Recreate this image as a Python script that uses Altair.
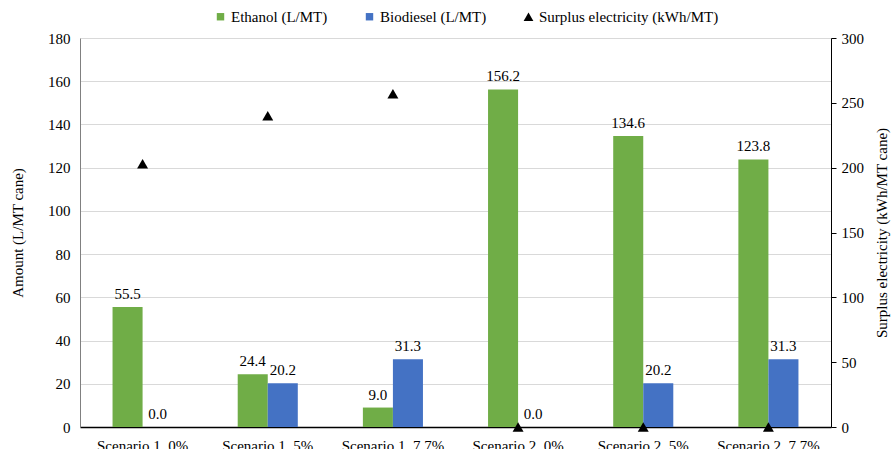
import altair as alt
import pandas as pd

scenarios = ["Scenario 1, 0%", "Scenario 1, 5%", "Scenario 1, 7.7%",
             "Scenario 2, 0%", "Scenario 2, 5%", "Scenario 2, 7.7%"]
ethanol = [55.5, 24.4, 9.0, 156.2, 134.6, 123.8]
biodiesel = [0.0, 20.2, 31.3, 0.0, 20.2, 31.3]
electricity = [203, 240, 257, 0, 0, 0]
series_names = ["Ethanol (L/MT)", "Biodiesel (L/MT)", "Surplus electricity (kWh/MT)"]
colors = ["#70AD47", "#4472C4", "#000000"]
left_ticks = [0, 20, 40, 60, 80, 100, 120, 140, 160, 180]
right_ticks = [0, 50, 100, 150, 200, 250, 300]

rows = []
for s, e, b in zip(scenarios, ethanol, biodiesel):
    rows.append({"scenario": s, "series": series_names[0], "value": e})
    rows.append({"scenario": s, "series": series_names[1], "value": b})
bars_df = pd.DataFrame(rows)
elec_df = pd.DataFrame({"scenario": scenarios,
                        "series": [series_names[2]] * len(scenarios),
                        "value": electricity})

FONT = "Liberation Serif"
FS = 15

x_enc = alt.X("scenario:N", sort=scenarios,
              scale=alt.Scale(paddingInner=0.52, paddingOuter=0.26),
              axis=alt.Axis(title=None, labelAngle=0, labelPadding=11, domainColor="#000",
                            domainWidth=1.5, ticks=False, grid=False))

xoff = alt.XOffset("series:N", scale=alt.Scale(domain=series_names[:2], paddingInner=0, paddingOuter=0))

tri_test = "datum.value === 'Surplus electricity (kWh/MT)'"
legend = alt.Legend(
    title=None, orient="none", direction="horizontal", legendX=133, legendY=-29,
    labelLimit=400,
    symbolSize=alt.ExprRef(expr=f"{tri_test} ? 95 : 55"),
    symbolType=alt.ExprRef(expr=f"{tri_test} ? 'triangle-up' : 'square'"),
    columnPadding=34, labelOffset=3, symbolStrokeWidth=0,
)

color_enc = alt.Color("series:N", scale=alt.Scale(domain=series_names, range=colors), legend=legend)

y_left = alt.Y("value:Q", scale=alt.Scale(domain=[0, 180]),
               axis=alt.Axis(values=left_ticks, title="Amount (L/MT cane)",
                             titlePadding=22, labelPadding=10, ticks=False,
                             domainColor="#808080", domainWidth=1,
                             grid=True, gridColor="#d9d9d9", gridWidth=1))

bars = alt.Chart(bars_df).mark_bar().encode(
    x=x_enc, xOffset=xoff, y=y_left, color=color_enc)

labels = alt.Chart(bars_df).mark_text(baseline="bottom", dy=-5, font=FONT, fontSize=FS, color="#000").encode(
    x=x_enc, xOffset=xoff, y=y_left, text=alt.Text("value:Q", format=".1f"))

left_layer = alt.layer(bars, labels)

points = alt.Chart(elec_df).mark_point(shape="triangle-up", filled=True, size=120, opacity=1).encode(
    x=x_enc,
    y=alt.Y("value:Q", scale=alt.Scale(domain=[0, 300]),
            axis=alt.Axis(orient="right", values=right_ticks, title="Surplus electricity (kWh/MT cane)",
                          titleAngle=270, titlePadding=26, labelPadding=5,
                          ticks=True, tickSize=5, tickColor="#000",
                          domainColor="#000", domainWidth=1, grid=False)),
    color=color_enc)

chart = alt.layer(left_layer, points).resolve_scale(y="independent").properties(
    width=751, height=389,
    autosize=alt.AutoSizeParams(type="none"),
    padding={"left": 80, "top": 38, "right": 64, "bottom": 22},
).configure(
    background="white", font=FONT
).configure_view(stroke=None).configure_axis(
    labelFont=FONT, labelFontSize=FS, labelColor="#000",
    titleFont=FONT, titleFontSize=FS, titleFontWeight="normal", titleColor="#000",
).configure_legend(
    labelFont=FONT, labelFontSize=FS, labelColor="#000",
)

chart.save("out.html", embed_options={"renderer": "svg", "actions": False})
